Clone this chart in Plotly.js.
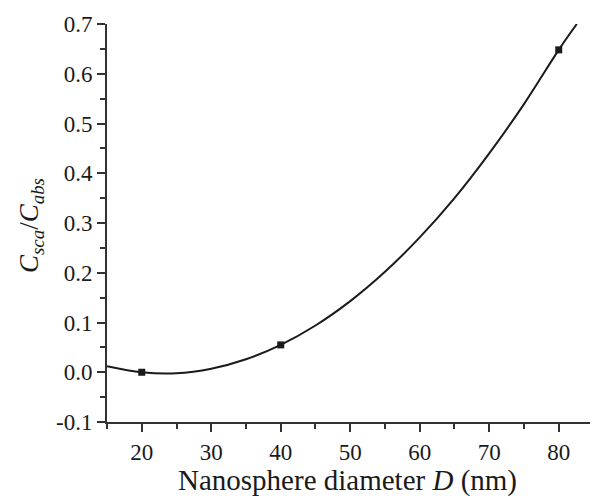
<!DOCTYPE html>
<html>
<head>
<meta charset="utf-8">
<script src="https://cdn.plot.ly/plotly-3.0.1.min.js"></script>
<style>html,body{margin:0;padding:0;background:#fff;}#chart{width:593px;height:498px;}</style>
</head>
<body>
<div id="chart"></div>
<script>
// Measured points
const diameters = [20, 40, 80];
const ratios = [0.0, 0.055, 0.648];
// Fitted curve
const curveD = [15, 20, 25, 30, 35, 40, 45, 50, 55, 60, 65, 70, 75, 80, 82.6];
const curveR = [0.012, 0.000, -0.002, 0.007, 0.026, 0.055, 0.094, 0.143, 0.202, 0.271, 0.350, 0.440, 0.539, 0.648, 0.700];
const xTicks = [20, 30, 40, 50, 60, 70, 80];
const yTicks = [-0.1, 0.0, 0.1, 0.2, 0.3, 0.4, 0.5, 0.6, 0.7];
const yTickText = ['-0.1', '0.0', '0.1', '0.2', '0.3', '0.4', '0.5', '0.6', '0.7'];

const font = "'Liberation Serif', 'Times New Roman', Times, serif";
const ink = '#1a1a1a';

const traces = [
  {x: curveD, y: curveR, mode: 'lines', line: {color: ink, width: 2, shape: 'spline'}, hoverinfo: 'skip'},
  {x: diameters, y: ratios, mode: 'markers', marker: {symbol: 'square', size: 7, color: ink}}
];

const axisCommon = {
  showline: true, linecolor: '#333', linewidth: 2, mirror: false,
  ticks: 'outside', ticklen: 8, tickwidth: 2, tickcolor: '#333',
  showgrid: false, zeroline: false,
  tickfont: {family: font, size: 23, color: ink}
};

const layout = {
  width: 593, height: 498,
  font: {family: font},
  margin: {l: 107, r: 3, t: 24, b: 76},
  paper_bgcolor: '#fff', plot_bgcolor: '#fff',
  showlegend: false,
  xaxis: Object.assign({}, axisCommon, {
    range: [15, 84.5], tickvals: xTicks, ticktext: xTicks.map(String),
    minor: {dtick: 5, tick0: 15, ticks: 'outside', ticklen: 5, tickwidth: 2, tickcolor: '#333'}
  }),
  yaxis: Object.assign({}, axisCommon, {
    range: [-0.1, 0.7], tickvals: yTicks, ticktext: yTickText,
    minor: {dtick: 0.05, tick0: -0.1, ticks: 'outside', ticklen: 5, tickwidth: 2, tickcolor: '#333'}
  }),
  annotations: [
    {text: 'Nanosphere diameter <i>D</i> (nm)', xref: 'paper', yref: 'paper',
     x: (347.5 - 107) / 483, y: -(480 - 422) / 398, xanchor: 'center', yanchor: 'middle',
     showarrow: false, font: {family: font, size: 29, color: ink}},
    {text: '<i>C</i><sub><i>sca</i></sub>/<i>C</i><sub><i>abs</i></sub>', xref: 'paper', yref: 'paper',
     x: -(107 - 31) / 483, y: (422 - 226) / 398, xanchor: 'center', yanchor: 'middle', textangle: -90,
     showarrow: false, font: {family: font, size: 27, color: ink}}
  ]
};

Plotly.newPlot('chart', traces, layout, {displayModeBar: false, staticPlot: true});
</script>
</body>
</html>
